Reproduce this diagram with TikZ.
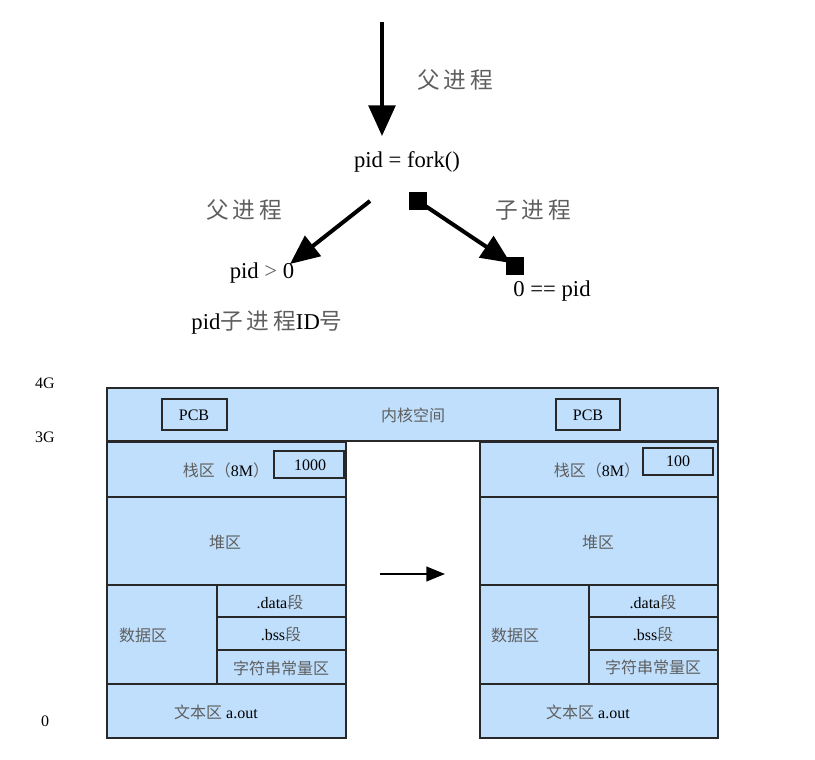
\documentclass[tikz,border=0pt]{standalone}
\usepackage{fontspec}
\setmainfont{Liberation Serif}
\newfontfamily\cjkfont{Noto Sans CJK SC}
\usetikzlibrary{arrows.meta}
\definecolor{membg}{RGB}{191,223,252}
\definecolor{zhgray}{RGB}{95,95,95}
\definecolor{edge}{RGB}{40,40,40}
\newcommand\zht[1]{{\cjkfont\color{zhgray}#1}}
\begin{document}
\begin{tikzpicture}[x=0.75pt,y=-0.75pt,
  big/.style={font=\fontsize{17}{20}\selectfont, inner sep=0pt},
  small/.style={font=\fontsize{12}{14}\selectfont, inner sep=0pt},
  box/.style={draw=edge, fill=membg, line width=1.3pt},
  inbox/.style={draw=edge, line width=1.3pt},
  bigarr/.style={line width=3pt, -{Triangle[length=23pt,width=20pt]}},
  midarr/.style={line width=3pt, -{Triangle[length=22pt,width=19pt]}},
  harr/.style={line width=1.6pt, -{Triangle[length=14pt,width=11pt]}},
  sq/.style={fill=black, minimum size=13pt, inner sep=0pt}]
\useasboundingbox (0,0) rectangle (815,760);

% ---------- top: fork ----------
\coordinate (topstart) at (382,22);
\coordinate (toptip) at (382,136);
\node[big] (fork) at (407,162) {pid = fork()};
\node[big] (lblparent1) at (455,80) {\zht{父\,进\,程}};
\node[big] (lblparent2) at (244,210) {\zht{父\,进\,程}};
\node[big] (lblchild) at (533,210) {\zht{子\,进\,程}};
\node[big] (pgt) at (262,273) {pid {\color{zhgray}>} 0};
\node[big] (ceq) at (552,291) {0 == pid};
\node[big] (pidid) at (267,323) {pid\zht{子\,进\,程}ID\zht{号}};
\coordinate (lstart) at (370,201);
\coordinate (ltip) at (290,264);
\node[sq] (sq1) at (418,201) {};
\node[sq] (sq2) at (515,266) {};

\draw[bigarr] (topstart) -- (toptip);
\draw[midarr] (lstart) -- (ltip);
\draw[midarr, shorten >=4pt] (sq1.center) -- (sq2.center);

% ---------- bottom: memory ----------
\node[small] (g4) at (45,383) {4G};
\node[small] (g3) at (45,437) {3G};
\node[small] (g0) at (45,721) {0};

% kernel
\path[box] (107,388) rectangle (718,441);
\path[inbox] (162,399) rectangle (227,430);
\path[inbox] (556,399) rectangle (620,430);
\node[small] (pcbl) at (194,415) {PCB};
\node[small] (pcbr) at (588,415) {PCB};
\node[small] (kern) at (413,415) {\zht{内核空间}};

% left process
\path[box] (107,442) rectangle (346,497);
\path[box] (107,497) rectangle (346,585);
\path[box] (107,585) rectangle (217,684);
\path[box] (217,585) rectangle (346,617);
\path[box] (217,617) rectangle (346,650);
\path[box] (217,650) rectangle (346,684);
\path[box] (107,684) rectangle (346,738);
\path[inbox] (274,451) rectangle (344,478);
\node[small] (stackl) at (226,470) {\zht{栈区（}8M\zht{）}};
\node[small] (v1000) at (310,465) {1000};
\node[small] (heapl) at (225,542) {\zht{堆区}};
\node[small] (datal) at (143,635) {\zht{数据区}};
\node[small] (dsegl) at (280,602) {.data\zht{段}};
\node[small] (bssl) at (281,634) {.bss\zht{段}};
\node[small] (strl) at (281,668) {\zht{字符串常量区}};
\node[small] (textl) at (216,712) {\zht{文本区} a.out};

% right process
\path[box] (480,442) rectangle (718,497);
\path[box] (480,497) rectangle (718,585);
\path[box] (480,585) rectangle (589,684);
\path[box] (589,585) rectangle (718,617);
\path[box] (589,617) rectangle (718,650);
\path[box] (589,650) rectangle (718,684);
\path[box] (480,684) rectangle (718,738);
\path[inbox] (643,448) rectangle (713,475);
\node[small] (stackr) at (597,470) {\zht{栈区（}8M\zht{）}};
\node[small] (v100) at (678,461) {100};
\node[small] (heapr) at (598,542) {\zht{堆区}};
\node[small] (datar) at (515,635) {\zht{数据区}};
\node[small] (dsegr) at (653,602) {.data\zht{段}};
\node[small] (bssr) at (653,634) {.bss\zht{段}};
\node[small] (strr) at (653,667) {\zht{字符串常量区}};
\node[small] (textr) at (588,712) {\zht{文本区} a.out};

\coordinate (hstart) at (380,574);
\coordinate (hend) at (445,574);
\draw[harr] (hstart) -- (hend);
\end{tikzpicture}
\end{document}
